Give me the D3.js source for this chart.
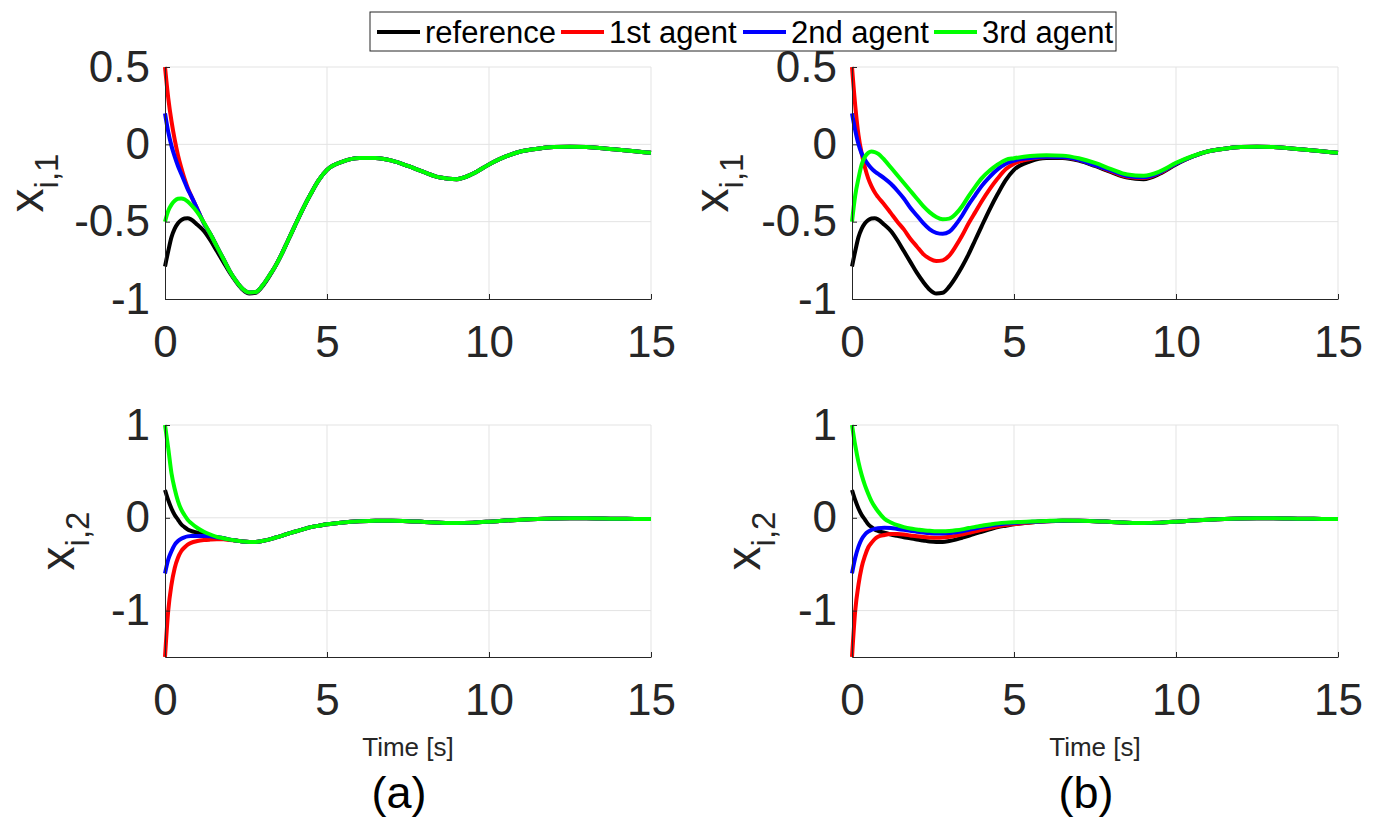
<!DOCTYPE html>
<html>
<head>
<meta charset="utf-8">
<script src="https://cdn.jsdelivr.net/npm/d3@7"></script>
<style>
  body { margin: 0; background: #fff; }
  text { font-family: "Liberation Sans", Arial, sans-serif; }
</style>
</head>
<body>
<svg width="1375" height="819"></svg>
<script>
// time grid shared by every curve (s)
const T = [0, 0.1, 0.2, 0.3, 0.4, 0.5, 0.6, 0.7, 0.8, 1, 1.2, 1.4, 1.6, 1.8, 2, 2.2, 2.4, 2.6, 2.8, 3,
  3.2, 3.4, 3.6, 3.8, 4, 4.25, 4.5, 4.75, 5, 5.5, 6, 6.5, 7, 7.5, 8, 8.5, 9, 9.5, 10, 10.5, 11, 11.5,
  12, 12.5, 13, 13.5, 14, 14.5, 15];

// x_{i,1}, reference (same in both panels)
const refX1 = [-0.79, -0.69, -0.60, -0.545, -0.51, -0.49, -0.48, -0.478, -0.485, -0.52, -0.56, -0.62, -0.69, -0.76, -0.83, -0.89, -0.94, -0.965, -0.96, -0.92,
  -0.86, -0.79, -0.71, -0.62, -0.53, -0.42, -0.32, -0.23, -0.165, -0.11, -0.088, -0.088, -0.105, -0.14, -0.18, -0.215, -0.225, -0.19, -0.13, -0.08, -0.045, -0.028,
  -0.018, -0.015, -0.018, -0.025, -0.035, -0.045, -0.055];

// x_{i,1}, panel (a)
const redX1a = [0.5, 0.30, 0.15, 0.03, -0.07, -0.15, -0.22, -0.28, -0.33, -0.42, -0.51, -0.58, -0.66, -0.74, -0.82, -0.885, -0.935, -0.958, -0.955, -0.915,
  -0.855, -0.79, -0.71, -0.62, -0.53, -0.42, -0.32, -0.23, -0.165, -0.11, -0.088, -0.088, -0.105, -0.14, -0.18, -0.215, -0.225, -0.19, -0.13, -0.08, -0.045, -0.028,
  -0.018, -0.015, -0.018, -0.025, -0.035, -0.045, -0.055];
const blueX1a = [0.2, 0.08, -0.01, -0.08, -0.14, -0.19, -0.24, -0.29, -0.33, -0.42, -0.51, -0.58, -0.66, -0.74, -0.82, -0.885, -0.935, -0.958, -0.955, -0.915,
  -0.855, -0.79, -0.71, -0.62, -0.53, -0.42, -0.32, -0.23, -0.165, -0.11, -0.088, -0.088, -0.105, -0.14, -0.18, -0.215, -0.225, -0.19, -0.13, -0.08, -0.045, -0.028,
  -0.018, -0.015, -0.018, -0.025, -0.035, -0.045, -0.055];
const greenX1a = [-0.5, -0.43, -0.39, -0.365, -0.352, -0.35, -0.355, -0.37, -0.39, -0.44, -0.505, -0.58, -0.66, -0.74, -0.82, -0.885, -0.935, -0.958, -0.955, -0.915,
  -0.855, -0.79, -0.71, -0.62, -0.53, -0.42, -0.32, -0.23, -0.165, -0.11, -0.088, -0.088, -0.105, -0.14, -0.18, -0.215, -0.225, -0.19, -0.13, -0.08, -0.045, -0.028,
  -0.018, -0.015, -0.018, -0.025, -0.035, -0.045, -0.055];

// x_{i,1}, panel (b)
const redX1b = [0.5, 0.25, 0.06, -0.06, -0.15, -0.22, -0.27, -0.31, -0.34, -0.39, -0.445, -0.50, -0.55, -0.61, -0.66, -0.71, -0.74, -0.755, -0.75, -0.72,
  -0.66, -0.59, -0.51, -0.44, -0.37, -0.29, -0.22, -0.16, -0.125, -0.095, -0.082, -0.083, -0.10, -0.135, -0.175, -0.21, -0.218, -0.185, -0.125, -0.08, -0.045, -0.028,
  -0.018, -0.015, -0.018, -0.025, -0.035, -0.045, -0.055];
const blueX1b = [0.2, 0.09, 0.0, -0.06, -0.10, -0.13, -0.155, -0.175, -0.19, -0.22, -0.255, -0.30, -0.35, -0.41, -0.46, -0.51, -0.55, -0.572, -0.578, -0.565,
  -0.52, -0.46, -0.39, -0.33, -0.27, -0.21, -0.16, -0.125, -0.105, -0.088, -0.08, -0.082, -0.10, -0.135, -0.17, -0.205, -0.213, -0.182, -0.125, -0.08, -0.045, -0.028,
  -0.018, -0.015, -0.018, -0.025, -0.035, -0.045, -0.055];
const greenX1b = [-0.5, -0.33, -0.22, -0.13, -0.08, -0.055, -0.047, -0.05, -0.06, -0.10, -0.15, -0.20, -0.25, -0.30, -0.35, -0.40, -0.44, -0.47, -0.485, -0.48,
  -0.45, -0.40, -0.335, -0.275, -0.22, -0.17, -0.13, -0.10, -0.09, -0.075, -0.07, -0.073, -0.09, -0.12, -0.16, -0.195, -0.203, -0.175, -0.12, -0.077, -0.045, -0.028,
  -0.018, -0.015, -0.018, -0.025, -0.035, -0.045, -0.055];

// x_{i,2}, reference (same in both panels)
const refX2 = [0.3, 0.19, 0.10, 0.03, -0.02, -0.07, -0.10, -0.125, -0.14, -0.16, -0.18, -0.195, -0.21, -0.22, -0.235, -0.245, -0.255, -0.26, -0.26, -0.25,
  -0.235, -0.215, -0.195, -0.17, -0.15, -0.125, -0.10, -0.085, -0.07, -0.05, -0.038, -0.032, -0.032, -0.036, -0.044, -0.052, -0.056, -0.052, -0.042, -0.03, -0.02, -0.012,
  -0.008, -0.006, -0.006, -0.008, -0.01, -0.012, -0.014];

// x_{i,2}, panel (a)
const redX2a = [-1.5, -1.0, -0.72, -0.54, -0.43, -0.36, -0.32, -0.29, -0.27, -0.25, -0.24, -0.235, -0.232, -0.232, -0.24, -0.245, -0.255, -0.26, -0.26, -0.25,
  -0.235, -0.215, -0.195, -0.17, -0.15, -0.125, -0.10, -0.085, -0.07, -0.05, -0.038, -0.032, -0.032, -0.036, -0.044, -0.052, -0.056, -0.052, -0.042, -0.03, -0.02, -0.012,
  -0.008, -0.006, -0.006, -0.008, -0.01, -0.012, -0.014];
const blueX2a = [-0.6, -0.45, -0.36, -0.29, -0.25, -0.225, -0.21, -0.20, -0.195, -0.195, -0.195, -0.2, -0.21, -0.22, -0.235, -0.245, -0.255, -0.26, -0.26, -0.25,
  -0.235, -0.215, -0.195, -0.17, -0.15, -0.125, -0.10, -0.085, -0.07, -0.05, -0.038, -0.032, -0.032, -0.036, -0.044, -0.052, -0.056, -0.052, -0.042, -0.03, -0.02, -0.012,
  -0.008, -0.006, -0.006, -0.008, -0.01, -0.012, -0.014];
const greenX2a = [1.0, 0.75, 0.48, 0.31, 0.18, 0.09, 0.03, -0.02, -0.055, -0.11, -0.15, -0.18, -0.205, -0.22, -0.235, -0.245, -0.255, -0.26, -0.26, -0.25,
  -0.235, -0.215, -0.195, -0.17, -0.15, -0.125, -0.10, -0.085, -0.07, -0.05, -0.038, -0.032, -0.032, -0.036, -0.044, -0.052, -0.056, -0.052, -0.042, -0.03, -0.02, -0.012,
  -0.008, -0.006, -0.006, -0.008, -0.01, -0.012, -0.014];

// x_{i,2}, panel (b)
const redX2b = [-1.5, -1.0, -0.72, -0.53, -0.41, -0.32, -0.27, -0.23, -0.205, -0.185, -0.175, -0.175, -0.18, -0.19, -0.2, -0.207, -0.212, -0.215, -0.213, -0.205,
  -0.195, -0.18, -0.163, -0.145, -0.13, -0.11, -0.092, -0.078, -0.068, -0.05, -0.038, -0.032, -0.032, -0.036, -0.044, -0.052, -0.056, -0.052, -0.042, -0.03, -0.02, -0.012,
  -0.008, -0.006, -0.006, -0.008, -0.01, -0.012, -0.014];
const blueX2b = [-0.6, -0.43, -0.31, -0.23, -0.18, -0.15, -0.13, -0.12, -0.112, -0.108, -0.11, -0.12, -0.13, -0.14, -0.15, -0.158, -0.165, -0.17, -0.17, -0.165,
  -0.155, -0.145, -0.13, -0.115, -0.1, -0.085, -0.072, -0.062, -0.056, -0.045, -0.036, -0.032, -0.032, -0.036, -0.044, -0.052, -0.056, -0.052, -0.042, -0.03, -0.02, -0.012,
  -0.008, -0.006, -0.006, -0.008, -0.01, -0.012, -0.014];
const greenX2b = [1.0, 0.78, 0.60, 0.46, 0.35, 0.26, 0.18, 0.12, 0.07, -0.01, -0.05, -0.08, -0.10, -0.115, -0.125, -0.135, -0.14, -0.145, -0.145, -0.142,
  -0.135, -0.125, -0.11, -0.098, -0.085, -0.072, -0.06, -0.052, -0.047, -0.04, -0.034, -0.03, -0.032, -0.036, -0.044, -0.052, -0.056, -0.052, -0.042, -0.03, -0.02, -0.012,
  -0.008, -0.006, -0.006, -0.008, -0.01, -0.012, -0.014];

const SERIES = ["reference", "1st agent", "2nd agent", "3rd agent"];
const COLORS = ["#000000", "#ff0000", "#0000ff", "#00ff00"];
const X_TICKS = [0, 5, 10, 15];
const Y_TICKS_1 = [-1, -0.5, 0, 0.5];
const Y_TICKS_2 = [-1, 0, 1];

let svg = d3.select("svg");
const PW = 486, PH = 232;

const panels = [
  { left: 165, top: 67, dom: [-1, 0.5], ticks: Y_TICKS_1, sub: "i,1", labX: 43, data: [refX1, redX1a, blueX1a, greenX1a] },
  { left: 852, top: 67, dom: [-1, 0.5], ticks: Y_TICKS_1, sub: "i,1", labX: 728, data: [refX1, redX1b, blueX1b, greenX1b] },
  { left: 165, top: 425, dom: [-1.5, 1], ticks: Y_TICKS_2, sub: "i,2", labX: 74, data: [refX2, redX2a, blueX2a, greenX2a], cap: "(a)" },
  { left: 852, top: 425, dom: [-1.5, 1], ticks: Y_TICKS_2, sub: "i,2", labX: 760, data: [refX2, redX2b, blueX2b, greenX2b], cap: "(b)" },
];

panels.forEach(function (p) {
  let x = d3.scaleLinear().domain([0, 15]).range([0, PW]);
  let y = d3.scaleLinear().domain(p.dom).range([PH, 0]);
  let g = svg.append("g").attr("transform", "translate(" + p.left + "," + p.top + ")");

  // grid
  g.append("g").selectAll("line").data(X_TICKS.filter(d => d > 0)).enter().append("line")
    .attr("x1", d => x(d)).attr("x2", d => x(d)).attr("y1", 0).attr("y2", PH)
    .attr("stroke", "#e3e3e3").attr("stroke-width", 1);
  g.append("g").selectAll("line").data(p.ticks.filter(d => d > p.dom[0])).enter().append("line")
    .attr("x1", 0).attr("x2", PW).attr("y1", d => y(d)).attr("y2", d => y(d))
    .attr("stroke", "#e3e3e3").attr("stroke-width", 1);

  // curves
  let line = d3.line().x((d, i) => x(T[i])).y(d => y(d)).curve(d3.curveMonotoneX);
  p.data.forEach(function (vals, k) {
    g.append("path").datum(vals).attr("d", line)
      .attr("fill", "none").attr("stroke", COLORS[k]).attr("stroke-width", 4)
      .attr("stroke-linejoin", "round");
  });

  // axes
  let xa = g.append("g").attr("transform", "translate(0," + PH + ")")
    .call(d3.axisBottom(x).tickValues(X_TICKS).tickFormat(d => String(d)).tickSizeInner(-5).tickSizeOuter(0).tickPadding(27));
  let ya = g.append("g")
    .call(d3.axisLeft(y).tickValues(p.ticks).tickFormat(d => String(d)).tickSizeInner(-5).tickSizeOuter(0).tickPadding(15));
  [xa, ya].forEach(function (a) {
    a.select(".domain").attr("stroke", "#262626");
    a.selectAll(".tick line").attr("stroke", "#262626");
    a.selectAll(".tick text").attr("fill", "#262626").style("font-size", "44px")
      .style("font-family", '"Liberation Sans", Arial, sans-serif');
  });

  // y label
  let yl = g.append("text")
    .attr("transform", "translate(" + (p.labX - p.left) + "," + PH / 2 + ") rotate(-90)")
    .attr("text-anchor", "middle").attr("fill", "#262626");
  yl.append("tspan").style("font-size", "48px").text("x");
  yl.append("tspan").style("font-size", "33px").attr("dy", 15).text(p.sub);

  if (p.cap) {
    g.append("text").attr("x", PW / 2).attr("y", 331).attr("text-anchor", "middle")
      .attr("fill", "#262626").style("font-size", "26px").text("Time [s]");
    g.append("text").attr("x", PW / 2 - 9).attr("y", 383).attr("text-anchor", "middle")
      .attr("fill", "#000").style("font-size", "45px").text(p.cap);
  }
});

// legend
const LEG_X = [377, 561, 743, 934];
let leg = svg.append("g");
leg.append("rect").attr("x", 370).attr("y", 12).attr("width", 746).attr("height", 39)
  .attr("fill", "#fff").attr("stroke", "#262626").attr("stroke-width", 1);
SERIES.forEach(function (name, k) {
  leg.append("line").attr("x1", LEG_X[k]).attr("x2", LEG_X[k] + 43).attr("y1", 32).attr("y2", 32)
    .attr("stroke", COLORS[k]).attr("stroke-width", 4);
  leg.append("text").attr("x", LEG_X[k] + 48).attr("y", 43).style("font-size", "31px")
    .attr("fill", "#000").text(name);
});
</script>
</body>
</html>
